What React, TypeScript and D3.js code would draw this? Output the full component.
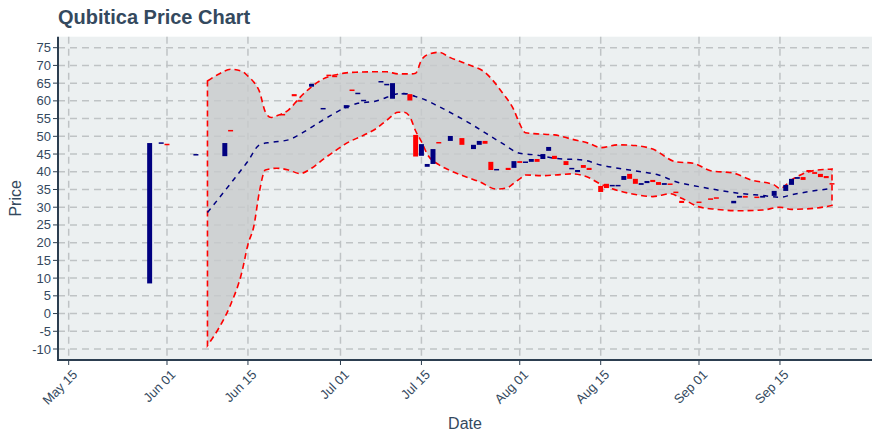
import React from "react";
import * as d3 from "d3";

// ---------- data ----------
const candleDates = [
  "2023-05-29","2023-05-31","2023-06-01","2023-06-06","2023-06-11","2023-06-12","2023-06-21","2023-06-23","2023-06-24","2023-06-26",
  "2023-06-28","2023-06-29","2023-06-30","2023-07-02","2023-07-03","2023-07-04","2023-07-05","2023-07-08","2023-07-09","2023-07-10",
  "2023-07-12","2023-07-13","2023-07-14","2023-07-15","2023-07-16","2023-07-17","2023-07-18","2023-07-20","2023-07-22","2023-07-24",
  "2023-07-25","2023-07-26","2023-07-27","2023-07-28","2023-07-30","2023-07-31","2023-08-01","2023-08-02","2023-08-03","2023-08-04",
  "2023-08-05","2023-08-06","2023-08-07","2023-08-09","2023-08-10","2023-08-11","2023-08-12","2023-08-13","2023-08-15","2023-08-16",
  "2023-08-17","2023-08-18","2023-08-19","2023-08-20","2023-08-21","2023-08-22","2023-08-23","2023-08-24","2023-08-25","2023-08-26",
  "2023-08-27","2023-08-28","2023-08-29","2023-09-01","2023-09-03","2023-09-04","2023-09-07","2023-09-08","2023-09-09","2023-09-11",
  "2023-09-12","2023-09-14","2023-09-16","2023-09-17","2023-09-18","2023-09-19","2023-09-20","2023-09-21","2023-09-22","2023-09-23",
  "2023-09-24",
];
const openVals = [
  8.5, 47.9, 47.9, 44.9, 44.4, 51.8, 56.3, 61.9, 60.2, 64.0,
  57.8, 67.4, 67.1, 57.9, 63.2, 62.1, 60.1, 65.4, 64.6, 60.6,
  62.0, 61.9, 50.4, 44.5, 41.4, 42.2, 48.4, 48.7, 49.5, 46.4,
  47.6, 48.7, 42.8, 40.6, 41.1, 41.1, 43.0, 42.7, 42.8, 43.6,
  43.6, 45.9, 44.5, 43.0, 40.9, 39.9, 41.9, 41.1, 36.0, 36.6,
  36.1, 36.1, 37.7, 39.4, 38.0, 36.3, 36.8, 37.7, 37.1, 36.3,
  36.7, 34.4, 31.8, 31.6, 32.5, 32.8, 31.1, 32.7, 33.2, 33.0,
  32.7, 33.2, 34.6, 36.3, 38.0, 38.5, 40.5, 39.9, 39.4, 38.8,
  36.8,
];
const closeVals = [
  48.1, 48.3, 47.7, 45.0, 48.1, 51.6, 56.1, 61.3, 59.8, 64.8,
  58.0, 67.2, 66.9, 58.8, 63.0, 62.3, 60.3, 65.6, 64.8, 65.0,
  62.2, 60.1, 44.3, 47.8, 42.2, 46.4, 48.2, 50.1, 47.6, 47.6,
  48.7, 47.9, 40.5, 40.8, 40.5, 43.0, 42.5, 42.9, 43.6, 42.8,
  45.0, 47.0, 43.6, 41.9, 41.1, 40.5, 41.1, 40.5, 34.3, 35.4,
  36.3, 36.3, 38.8, 38.0, 36.6, 36.8, 37.4, 37.1, 36.3, 36.8,
  36.5, 34.2, 31.2, 31.4, 32.3, 32.6, 31.8, 33.2, 32.7, 32.8,
  33.2, 34.6, 36.3, 38.0, 38.5, 37.7, 39.9, 39.4, 38.5, 38.2,
  36.6,
];

const upperDates = [
  "2023-06-08","2023-06-10","2023-06-12","2023-06-14","2023-06-15","2023-06-16","2023-06-17","2023-06-18","2023-06-19","2023-06-20",
  "2023-06-22","2023-06-24","2023-06-27","2023-06-28","2023-06-30","2023-07-02","2023-07-04","2023-07-07","2023-07-09","2023-07-11",
  "2023-07-13","2023-07-14","2023-07-15","2023-07-16","2023-07-18","2023-07-20","2023-07-23","2023-07-26","2023-07-29","2023-07-31",
  "2023-08-01","2023-08-02","2023-08-04","2023-08-07","2023-08-10","2023-08-13","2023-08-15","2023-08-18","2023-08-21","2023-08-24",
  "2023-08-28","2023-08-31","2023-09-03","2023-09-07","2023-09-10","2023-09-14","2023-09-15","2023-09-17","2023-09-20","2023-09-23",
  "2023-09-24",
];
const upperVals = [
  65.6, 67.6, 68.9, 68.3, 67.0, 65.3, 62.6, 56.9, 55.3, 55.8,
  57.4, 61.0, 65.2, 66.2, 67.3, 67.9, 68.1, 68.2, 68.2, 67.6,
  67.6, 67.8, 71.5, 73.0, 73.7, 72.2, 70.3, 68.0, 62.3, 57.4,
  53.5, 51.0, 50.7, 50.4, 49.2, 48.0, 46.8, 47.6, 47.4, 46.4,
  42.8, 42.4, 40.3, 39.6, 37.7, 36.3, 35.3, 37.7, 40.0, 40.7,
  40.8,
];

const lowerDates = [
  "2023-06-08","2023-06-10","2023-06-12","2023-06-14","2023-06-15","2023-06-16","2023-06-17","2023-06-18","2023-06-20","2023-06-22",
  "2023-06-24","2023-06-26","2023-06-28","2023-06-30","2023-07-02","2023-07-05","2023-07-07","2023-07-09","2023-07-11","2023-07-12",
  "2023-07-13","2023-07-14","2023-07-15","2023-07-16","2023-07-18","2023-07-20","2023-07-23","2023-07-25","2023-07-28","2023-07-30",
  "2023-07-31","2023-08-01","2023-08-02","2023-08-05","2023-08-08","2023-08-10","2023-08-13","2023-08-15","2023-08-17","2023-08-21",
  "2023-08-24","2023-08-27","2023-08-29","2023-09-01","2023-09-04","2023-09-08","2023-09-12","2023-09-15","2023-09-17","2023-09-21",
  "2023-09-24",
];
const lowerVals = [
  -9.0, -4.0, 2.5, 12.0, 19.5, 24.5, 34.5, 40.5, 41.0, 40.5,
  39.5, 41.0, 43.5, 45.8, 48.0, 50.3, 52.0, 54.5, 56.8, 56.8,
  55.5, 51.5, 48.5, 45.0, 42.0, 40.3, 38.4, 37.2, 35.1, 35.6,
  36.8, 38.0, 39.1, 38.9, 39.2, 39.4, 38.3, 36.5, 35.2, 33.6,
  33.0, 33.8, 32.5, 30.1, 29.4, 29.0, 29.2, 30.0, 29.4, 29.7,
  30.5,
];

const maDates = [
  "2023-06-08","2023-06-12","2023-06-15","2023-06-17","2023-06-19","2023-06-22","2023-06-24","2023-06-28","2023-07-02","2023-07-04",
  "2023-07-07","2023-07-09","2023-07-10","2023-07-12","2023-07-14","2023-07-15","2023-07-18","2023-07-23","2023-07-29","2023-08-01",
  "2023-08-04","2023-08-07","2023-08-10","2023-08-12","2023-08-15","2023-08-18","2023-08-22","2023-08-25","2023-08-28","2023-09-01",
  "2023-09-04","2023-09-08","2023-09-12","2023-09-15","2023-09-17","2023-09-20","2023-09-24",
];
const maVals = [
  28.5, 36.7, 43.0, 47.6, 48.3, 49.0, 50.6, 54.6, 58.2, 59.3,
  59.9, 61.0, 61.7, 62.1, 61.2, 60.7, 58.4, 54.0, 48.0, 45.2,
  44.7, 43.8, 43.5, 43.3, 41.9, 41.0, 40.0, 39.1, 37.2, 35.8,
  34.9, 33.9, 33.3, 32.8, 33.5, 34.4, 35.3,
];

const yTicks = [-10, -5, 0, 5, 10, 15, 20, 25, 30, 35, 40, 45, 50, 55, 60, 65, 70, 75];
const xTickDates = ["2023-05-15", "2023-06-01", "2023-06-15", "2023-07-01", "2023-07-15", "2023-08-01", "2023-08-15", "2023-09-01", "2023-09-15"];
const xDomain = ["2023-05-13T03:40", "2023-09-30T22:00"];
const yDomain = [-13.1, 78.1];

const TITLE = "Qubitica Price Chart";
const X_LABEL = "Date";
const Y_LABEL = "Price";

// ---------- chart ----------
const W = 880, H = 440;
const M = { left: 58, right: 872, top: 36.7, bottom: 360 };
const FONT = "'Liberation Sans', Arial, Helvetica, sans-serif";
const TXT = "#34495e";

const parse = (s: string) => {
  const p = d3.utcParse("%Y-%m-%dT%H:%M")(s);
  return p ?? (d3.utcParse("%Y-%m-%d")(s) as Date);
};

export default function App() {
  const x = d3.scaleUtc().domain(xDomain.map(parse)).range([M.left, M.right]);
  const y = d3.scaleLinear().domain(yDomain).range([M.bottom, M.top]);
  const fmt = d3.utcFormat("%b %d");

  const upper = upperDates.map((d, i) => ({ d: parse(d), v: upperVals[i] }));
  const lower = lowerDates.map((d, i) => ({ d: parse(d), v: lowerVals[i] }));
  const ma = maDates.map((d, i) => ({ d: parse(d), v: maVals[i] }));

  const curve = d3.curveMonotoneX;
  const line = d3.line<{ d: Date; v: number }>().x((p) => x(p.d)).y((p) => y(p.v)).curve(curve);

  const upperPath = line(upper) || "";
  const lowerRev = line([...lower].reverse()) || "";
  const bandPath = upperPath + "L" + lowerRev.slice(1) + "Z";

  const dayMs = 86400000;
  const halfW = (x(new Date(dayMs * 0.86)) - x(new Date(0))) / 2;

  return (
    <svg width={W} height={H} style={{ position: "absolute", left: 0, top: 0, background: "#fff" }}>
      <rect x={M.left} y={M.top} width={M.right - M.left} height={M.bottom - M.top} fill="#ecf0f1" />
      {/* grid */}
      {yTicks.map((t) => (
        <line key={"gy" + t} x1={M.left} x2={M.right} y1={y(t)} y2={y(t)} stroke="#bfc3c5" strokeWidth={1.5} strokeDasharray="7,5" />
      ))}
      {xTickDates.map((t) => (
        <line key={"gx" + t} x1={x(parse(t))} x2={x(parse(t))} y1={M.top} y2={M.bottom} stroke="#bfc3c5" strokeWidth={1.5} strokeDasharray="7,5" />
      ))}
      {/* band */}
      <path d={bandPath} fill="#c8cbcc" fillOpacity={0.8} stroke="none" />
      <path d={bandPath} fill="none" stroke="#ff0000" strokeWidth={1.6} strokeDasharray="6,4" />
      {/* moving average */}
      <path d={line(ma) || ""} fill="none" stroke="#000080" strokeWidth={1.5} strokeDasharray="5,5" />
      {/* candles */}
      {candleDates.map((d, i) => {
        const o = openVals[i], c = closeVals[i];
        const up = c >= o;
        const cx = x(parse(d));
        const y1 = y(Math.max(o, c)), y2 = y(Math.min(o, c));
        const h = Math.max(y2 - y1, 1.5);
        return (
          <rect key={"c" + i} x={cx - halfW} y={y1} width={halfW * 2} height={h} fill={up ? "#000080" : "#ff0000"} />
        );
      })}
      {/* axes */}
      <line x1={M.left} x2={M.left} y1={M.top} y2={M.bottom + 1} stroke="#2c3e50" strokeWidth={2} />
      <line x1={M.left - 1} x2={M.right} y1={M.bottom} y2={M.bottom} stroke="#2c3e50" strokeWidth={2} />
      {yTicks.map((t) => (
        <g key={"ty" + t}>
          <line x1={M.left - 5} x2={M.left} y1={y(t)} y2={y(t)} stroke="#2c3e50" strokeWidth={1} />
          <text x={M.left - 7} y={y(t)} dy="0.35em" textAnchor="end" fontFamily={FONT} fontSize={13} fill={TXT}>
            {t}
          </text>
        </g>
      ))}
      {xTickDates.map((t) => {
        const px = x(parse(t));
        return (
          <g key={"tx" + t}>
            <line x1={px} x2={px} y1={M.bottom} y2={M.bottom + 5} stroke="#2c3e50" strokeWidth={1} />
            <text transform={`translate(${px + 3},${M.bottom + 9}) rotate(-45)`} textAnchor="end" dy="0.7em" fontFamily={FONT} fontSize={13} fill={TXT}>
              {fmt(parse(t))}
            </text>
          </g>
        );
      })}
      {/* labels */}
      <text x={58} y={24} fontFamily={FONT} fontSize={20} fontWeight="bold" fill={TXT}>
        {TITLE}
      </text>
      <text x={(M.left + M.right) / 2} y={429} textAnchor="middle" fontFamily={FONT} fontSize={16} fill={TXT}>
        {X_LABEL}
      </text>
      <text transform={`translate(21,${(M.top + M.bottom) / 2}) rotate(-90)`} textAnchor="middle" fontFamily={FONT} fontSize={16} fill={TXT}>
        {Y_LABEL}
      </text>
    </svg>
  );
}
